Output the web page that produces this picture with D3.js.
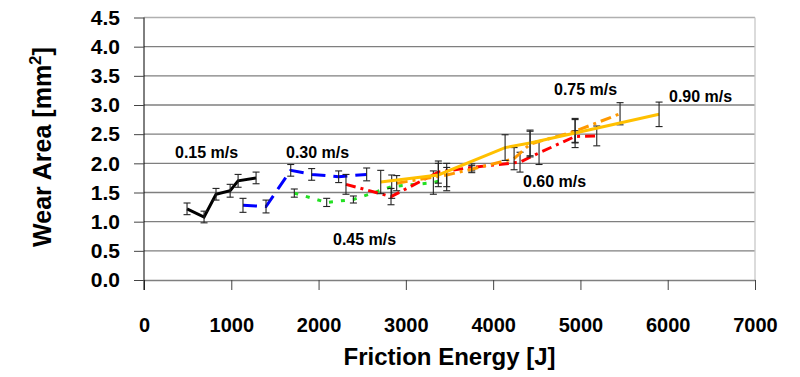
<!DOCTYPE html>
<html lang="en">
<head>
    <meta charset="UTF-8">
    <title>Wear Area vs Friction Energy</title>
    <script src="https://d3js.org/d3.v7.min.js"></script>
    <style>
      body { margin: 0; background: #fff; }
      svg text { font-family: "Liberation Sans", Arial, sans-serif; }
    </style>
</head>
<body>
<svg id="chart" width="800" height="377"></svg>
<script>
  // values, one set of arrays per sliding speed
  const speedLabels = ["0.15 m/s", "0.30 m/s", "0.45 m/s", "0.60 m/s", "0.75 m/s", "0.90 m/s"]

  const energy015 = [493, 688, 825, 987, 1078, 1284]
  const wear015   = [1.22, 1.08, 1.47, 1.53, 1.70, 1.75]
  const err015    = [0.10, 0.10, 0.10, 0.11, 0.11, 0.10]

  const energy030 = [1134, 1398, 1681, 1921, 2230, 2551]
  const wear030   = [1.28, 1.26, 1.88, 1.81, 1.77, 1.81]
  const err030    = [0.12, 0.11, 0.10, 0.10, 0.10, 0.11]

  const energy045 = [1722, 2093, 2399, 2838, 3315, 3468]
  const wear045   = [1.49, 1.33, 1.38, 1.60, 1.67, 1.73]
  const err045    = [0.07, 0.07, 0.06, 0.20, 0.20, 0.20]

  const energy060 = [2314, 2830, 3372, 3755, 4308, 4526, 4939, 5187]
  const wear060   = [1.64, 1.43, 1.85, 1.93, 2.02, 2.18, 2.46, 2.47]
  const err060    = [0.17, 0.14, 0.19, 0.06, 0.17, 0.20, 0.10, 0.17]

  const energy075 = [2895, 3468, 3755, 4240, 4423, 4939, 5454]
  const wear075   = [1.66, 1.80, 1.90, 2.08, 2.33, 2.55, 2.85]
  const err075    = [0.13, 0.20, 0.06, 0.19, 0.22, 0.20, 0.19]

  const energy090 = [2712, 3372, 4137, 4423, 4939, 5901]
  const wear090   = [1.68, 1.80, 2.27, 2.35, 2.52, 2.84]
  const err090    = [0.20, 0.20, 0.22, 0.22, 0.25, 0.21]

  const xTicks = [0, 1000, 2000, 3000, 4000, 5000, 6000, 7000]
  const yTicks = [0, 0.5, 1, 1.5, 2, 2.5, 3, 3.5, 4, 4.5]

  const build = (xs, ys, es) => xs.map((x, i) => ({x: x, y: ys[i], e: es[i]}))
  const series = [
    {name: speedLabels[0], pts: build(energy015, wear015, err015), color: "#000000", dash: null,       lx: 175, ly: 158},
    {name: speedLabels[1], pts: build(energy030, wear030, err030), color: "#0000ff", dash: "14,8",     lx: 286, ly: 158},
    {name: speedLabels[2], pts: build(energy045, wear045, err045), color: "#22e022", dash: "4,8",      lx: 333, ly: 245},
    {name: speedLabels[3], pts: build(energy060, wear060, err060), color: "#ff0000", dash: "10,5,3,5", lx: 523, ly: 187},
    {name: speedLabels[4], pts: build(energy075, wear075, err075), color: "#ff9900", dash: "11,5,3,5", lx: 554, ly: 95},
    {name: speedLabels[5], pts: build(energy090, wear090, err090), color: "#ffc000", dash: null,       lx: 669, ly: 102}
  ]

  const svg = d3.select("#chart")
  const plotL = 144, plotR = 755, plotT = 17.5, plotB = 280

  let xScale = d3.scaleLinear().domain([0, 7000]).range([plotL, plotR])
  let yScale = d3.scaleLinear().domain([0, 4.5]).range([plotB, plotT])

  // horizontal gridlines + plot frame
  svg.append("g").selectAll("line")
    .data(yTicks.filter(d => d > 0)).enter()
    .append("line")
      .attr("x1", plotL).attr("x2", plotR)
      .attr("y1", d => yScale(d)).attr("y2", d => yScale(d))
      .attr("stroke", d => d === 4.5 ? "#b0b0b0" : "#7f7f7f")
      .attr("stroke-width", 1.3)
  svg.append("line")
    .attr("x1", plotR).attr("x2", plotR).attr("y1", plotT).attr("y2", plotB)
    .attr("stroke", "#c8c8c8").attr("stroke-width", 1.3)

  // axes
  let xAxis = d3.axisBottom(xScale).tickValues(xTicks).tickFormat(d3.format("d"))
    .tickSize(10).tickPadding(28).tickSizeOuter(0)
  let xG = svg.append("g").attr("transform", `translate(0,${plotB})`).call(xAxis)
  xG.select(".domain").attr("stroke", "#7f7f7f").attr("stroke-width", 1.3)
  xG.selectAll(".tick line").attr("stroke", "#444")
  xG.selectAll("text").attr("font-size", 20).attr("font-weight", "bold").attr("fill", "#000")

  let yAxis = d3.axisLeft(yScale).tickValues(yTicks).tickFormat(d3.format(".1f"))
    .tickSize(10).tickPadding(14).tickSizeOuter(0)
  let yG = svg.append("g").attr("transform", `translate(${plotL},0)`).call(yAxis)
  yG.select(".domain").attr("stroke", "#000").attr("d", `M0,${plotT}V${plotB + 10}`)
  yG.selectAll(".tick line").attr("stroke", "#444")
  yG.selectAll("text").attr("font-size", 21).attr("font-weight", "bold").attr("fill", "#000")

  // axis titles
  svg.append("text")
    .attr("x", (plotL + plotR) / 2).attr("y", 365)
    .attr("text-anchor", "middle").attr("font-size", 24).attr("font-weight", "bold")
    .text("Friction Energy [J]")
  let yt = svg.append("text")
    .attr("transform", "translate(51,147) rotate(-90)")
    .attr("text-anchor", "middle").attr("font-size", 25).attr("font-weight", "bold")
  yt.append("tspan").text("Wear Area [mm")
  yt.append("tspan").attr("dy", -10).attr("font-size", 17).text("2")
  yt.append("tspan").attr("dy", 10).text("]")

  const line = d3.line().x(d => xScale(d.x)).y(d => yScale(d.y))

  series.forEach(s => {
    let g = svg.append("g")
    g.append("path")
      .datum(s.pts)
      .attr("d", line)
      .attr("fill", "none")
      .attr("stroke", s.color)
      .attr("stroke-width", 3)
      .attr("stroke-dasharray", s.dash)

    // error bars
    let eb = g.selectAll(".eb").data(s.pts).enter().append("g").attr("class", "eb")
    eb.append("line")
      .attr("x1", d => xScale(d.x)).attr("x2", d => xScale(d.x))
      .attr("y1", d => yScale(d.y + d.e)).attr("y2", d => yScale(d.y - d.e))
    eb.append("line")
      .attr("x1", d => xScale(d.x) - 3.5).attr("x2", d => xScale(d.x) + 3.5)
      .attr("y1", d => yScale(d.y + d.e)).attr("y2", d => yScale(d.y + d.e))
    eb.append("line")
      .attr("x1", d => xScale(d.x) - 3.5).attr("x2", d => xScale(d.x) + 3.5)
      .attr("y1", d => yScale(d.y - d.e)).attr("y2", d => yScale(d.y - d.e))
    eb.selectAll("line").attr("stroke", "#222").attr("stroke-width", 1.1)

    svg.append("text")
      .attr("x", s.lx).attr("y", s.ly)
      .attr("font-size", 16).attr("font-weight", "bold")
      .text(s.name)
  })
</script>
</body>
</html>
